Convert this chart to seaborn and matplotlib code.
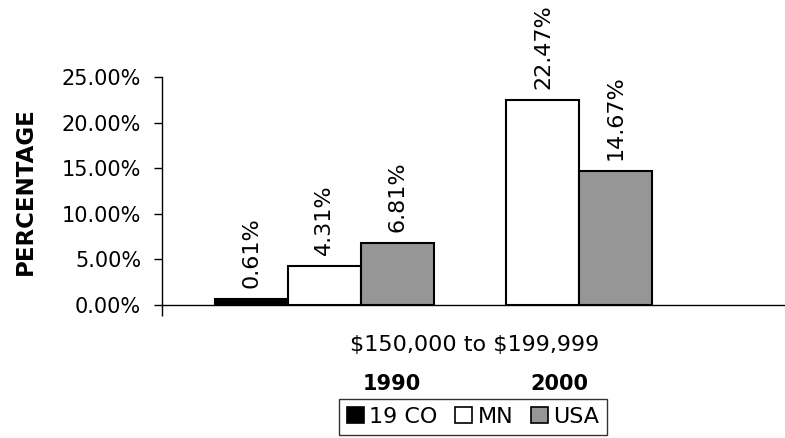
import numpy as np
import pandas as pd
import matplotlib
matplotlib.use("Agg")
import matplotlib.pyplot as plt
import matplotlib.patches as mpatches
import seaborn as sns

# Data
years = ["1990", "2000"]
regions = ["19 CO", "MN", "USA"]
co19 = [0.61, np.nan]
mn = [4.31, 22.47]
usa = [6.81, 14.67]
colors = ["black", "white", "#969696"]
yticks = [0, 5, 10, 15, 20, 25]
xlabel = r"\$150,000 to \$199,999"

df = pd.DataFrame({
    "year": years * 3,
    "region": [r for r in regions for _ in years],
    "value": co19 + mn + usa,
})

sns.set_style("white")
plt.rcParams["font.family"] = ["DejaVu Sans"]
plt.rcParams["text.color"] = "black"
plt.rcParams["axes.labelcolor"] = "black"
plt.rcParams["xtick.color"] = "black"
plt.rcParams["ytick.color"] = "black"

fs = 15

fig = plt.figure(figsize=(7.85, 4.38), dpi=100)
ax = fig.add_axes([162 / 785, (438 - 305) / 438, (785 - 162) / 785, 228 / 438])

sns.barplot(data=df, x="year", y="value", hue="region", order=years,
            hue_order=regions, palette=colors, width=1.0, edgecolor="black",
            linewidth=1.5, ax=ax, legend=False, errorbar=None)

for cont in ax.containers:
    ax.bar_label(cont, fmt="{:.2f}%", rotation=90, padding=8, fontsize=16,
                 clip_on=False)

ax.set_xlim(-0.742, 2.107)
ax.set_ylim(0, 25)
ax.set_yticks(yticks)
ax.set_yticklabels([f"{v:.2f}%" for v in yticks], fontsize=fs)
ax.set_xticks([-0.742])
ax.set_xticklabels([""])
ax.tick_params(axis="y", direction="out", length=6, width=1, left=True, pad=9)
ax.tick_params(axis="x", direction="out", length=8, width=1, bottom=True)
ax.set_xlabel("")
ax.set_ylabel("PERCENTAGE", fontsize=16.5, fontweight="bold")
ax.yaxis.set_label_coords(-(162 - 37) / 623, 0.5)

for side in ["top", "right"]:
    ax.spines[side].set_visible(False)
for side in ["left", "bottom"]:
    ax.spines[side].set_color("black")
    ax.spines[side].set_linewidth(1)

fig.text(475 / 785, 1 - 345 / 438, xlabel, ha="center", va="center", fontsize=fs + 1)
fig.text(392 / 785, 1 - 384 / 438, "1990", ha="center", va="center",
         fontsize=fs, fontweight="bold")
fig.text(559 / 785, 1 - 384 / 438, "2000", ha="center", va="center",
         fontsize=fs, fontweight="bold")

handles = [mpatches.Patch(facecolor=c, edgecolor="black", linewidth=1.2, label=r)
           for c, r in zip(colors, regions)]
leg = fig.legend(handles=handles, loc="center", bbox_to_anchor=(473 / 785, 1 - 417 / 438),
                 ncol=3, fontsize=fs + 1, frameon=True, fancybox=False, handlelength=0.75,
                 handleheight=0.75, handletextpad=0.25, columnspacing=0.8,
                 borderpad=0.35, borderaxespad=0)
leg.get_frame().set_edgecolor("black")
leg.get_frame().set_linewidth(1)

fig.savefig("out.png", dpi=100)
